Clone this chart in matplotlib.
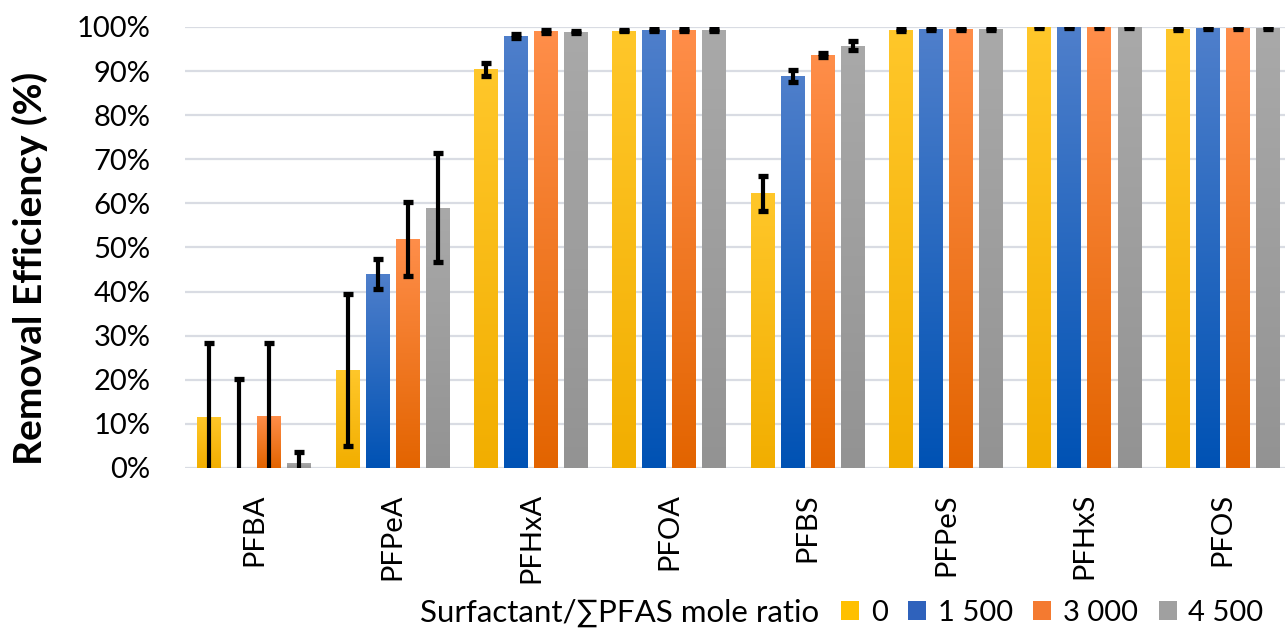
import numpy as np
import matplotlib
matplotlib.use("Agg")
import matplotlib.pyplot as plt
from matplotlib.colors import LinearSegmentedColormap
from matplotlib.patches import Patch

plt.rcParams['font.family'] = ['Lato', 'DejaVu Sans']

categories = ["PFBA", "PFPeA", "PFHxA", "PFOA", "PFBS", "PFPeS", "PFHxS", "PFOS"]
series_labels = ["0", "1 500", "3 000", "4 500"]
legend_title = "Surfactant/∑PFAS mole ratio"

vals_0    = [11.6, 22.2, 90.4, 99.2, 62.3, 99.3, 100.0, 99.6]
vals_1500 = [0.0, 44.0, 98.0, 99.4, 88.9, 99.5, 100.0, 99.7]
vals_3000 = [11.8, 51.9, 99.0, 99.4, 93.7, 99.5, 100.0, 99.7]
vals_4500 = [1.1, 59.0, 98.9, 99.4, 95.8, 99.5, 100.0, 99.8]

err_0    = [16.8, 17.2, 1.5, 0.2, 4.0, 0.3, 0.2, 0.2]
err_1500 = [20.2, 3.4, 0.4, 0.2, 1.4, 0.2, 0.2, 0.2]
err_3000 = [16.6, 8.4, 0.3, 0.2, 0.5, 0.2, 0.2, 0.2]
err_4500 = [2.5, 12.4, 0.3, 0.2, 1.0, 0.2, 0.2, 0.2]

values = [vals_0, vals_1500, vals_3000, vals_4500]
errors = [err_0, err_1500, err_3000, err_4500]

top_colors = ["#FFC72A", "#4F7FCB", "#FF8E4A", "#A9A9A9"]
bot_colors = ["#F2AE00", "#0052B4", "#E36400", "#939393"]
legend_colors = ["#FFC000", "#2F62BC", "#F47A30", "#A0A0A0"]

fig = plt.figure(figsize=(12.85, 6.32), dpi=100)
ax = fig.add_axes([185/1285, 1-468/632, (1292-185)/1285, (468-27)/632])

x = np.arange(len(categories))
pitch = 0.217
width = 0.173
grad = np.linspace(1, 0, 256).reshape(-1, 1)
for i, (v, e) in enumerate(zip(values, errors)):
    pos = x + (i - 1.5) * pitch
    bars = ax.bar(pos, v, width, color=legend_colors[i], zorder=2)
    cmap = LinearSegmentedColormap.from_list("g%d" % i, [bot_colors[i], top_colors[i]])
    for b in bars:
        b.set_facecolor("none")
        h = b.get_height()
        if h <= 0:
            continue
        bx = b.get_x()
        im = ax.imshow(grad, cmap=cmap, vmin=0, vmax=1, aspect='auto',
                       extent=(bx, bx + b.get_width(), 0, h), zorder=2,
                       interpolation='bilinear')
        im.set_clip_path(b)
    ax.errorbar(pos, v, yerr=e, fmt='none', ecolor='black', elinewidth=3.0,
                capsize=3.6, capthick=3.8, zorder=3)

ax.set_xlim(-0.5, len(categories) - 0.5)
ax.set_ylim(0, 100)
ax.set_yticks(np.arange(0, 101, 10))
ax.set_yticklabels(["%d%%" % t for t in range(0, 101, 10)])
ax.set_xticks(x)
ax.set_xticklabels(categories, rotation=90)
ax.tick_params(axis='y', length=0, pad=25, labelsize=21)
ax.tick_params(axis='x', length=0, pad=18, labelsize=21)
ax.yaxis.grid(True, color="#D9DCE3", linewidth=1.6, zorder=0)
ax.set_axisbelow(True)
for s in ax.spines.values():
    s.set_visible(False)

fig.text(30/1285, 1-268/632, "Removal Efficiency (%)", rotation=90, fontsize=28,
         fontweight='bold', ha='center', va='center')

fig.text(420/1285, 1-613/632, legend_title, fontsize=22.5, ha='left', va='center')
handles = [Patch(facecolor=c) for c in legend_colors]
fig.legend(handles, series_labels, loc='center left', bbox_to_anchor=(841/1285, 1-613/632),
           ncol=4, frameon=False, fontsize=21, handlelength=0.62, handleheight=0.62,
           handletextpad=0.4, columnspacing=0.7, borderpad=0, borderaxespad=0)

fig.savefig("out.png", dpi=100)
